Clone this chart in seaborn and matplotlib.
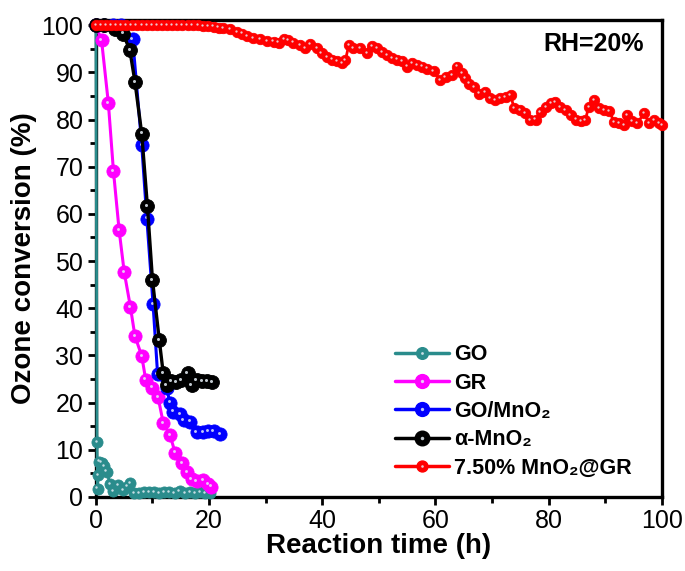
import numpy as np
import pandas as pd
import matplotlib
matplotlib.use("Agg")
import matplotlib.pyplot as plt
import matplotlib.transforms as mtransforms
from matplotlib.lines import Line2D
from matplotlib.legend_handler import HandlerTuple
from matplotlib.ticker import MultipleLocator
import seaborn as sns

# ---------------- data ----------------
go_x = [0, 0.2, 0.3, 0.4, 0.6, 1.0, 1.4, 1.9, 2.5, 3.1, 3.9, 4.8, 5.5, 6.0, 6.8,
        7.6, 8.5, 9.4, 10.3, 11.2, 12.1, 13.0, 13.9, 14.8, 15.7, 16.6, 17.5,
        18.4, 19.3, 20.2]
go_y = [100, 11.7, 1.8, 4.6, 7.5, 7.3, 6.5, 5.4, 2.8, 1.3, 2.5, 1.5, 2.2, 3.0, 0.8,
        0.9, 1.0, 1.1, 1.0, 0.9, 1.1, 1.0, 0.8, 1.2, 0.9, 1.0, 0.8, 1.0, 0.8, 0.9]

gr_x = [0, 1.0, 2.2, 3.1, 4.1, 5.0, 6.1, 6.9, 8.1, 8.8, 9.9, 11.0, 11.9, 13.1,
        14.0, 15.2, 16.1, 16.9, 17.8, 19.0, 19.9, 20.3]
gr_y = [100, 96.8, 83.5, 69.1, 56.6, 47.7, 40.3, 34.1, 29.9, 24.9, 23.2, 21.1,
        15.7, 13.1, 9.4, 7.1, 5.2, 3.8, 3.4, 3.6, 2.8, 2.2]

gomn_x = [0, 1.5, 3.0, 4.5, 6.5, 8.1, 9.0, 10.1, 10.9, 12.5, 13.1, 13.7, 14.9,
          15.5, 16.6, 17.8, 19.0, 19.9, 20.8, 21.9]
gomn_y = [100, 100, 100, 100, 97.0, 74.6, 59.0, 40.9, 26.1, 23.0, 20.0, 18.1,
          17.6, 16.3, 16.0, 13.8, 13.8, 14.0, 14.0, 13.3]

amn_x = [0, 1.5, 3.4, 4.8, 6.0, 6.9, 8.1, 9.1, 10.0, 11.2, 11.9, 12.5, 13.3,
         14.2, 15.0, 16.2, 16.9, 17.8, 18.7, 19.6, 20.5]
amn_y = [100, 100, 99.1, 98.2, 94.7, 88.0, 77.0, 61.7, 46.0, 33.3, 26.2, 23.7,
         24.6, 24.4, 24.8, 26.2, 23.7, 24.8, 24.5, 24.5, 24.3]

red_x = [0, 0.9, 1.8, 2.7, 3.6, 4.5, 5.4, 6.3, 7.2, 8.1, 9.0, 9.9, 10.8, 11.7,
         12.6, 13.5, 14.4, 15.3, 16.2, 17.1, 18.0, 19.0, 19.9, 20.8, 21.7, 22.5,
         23.7, 24.9, 25.8, 26.7, 27.8, 29.0, 30.2, 31.4, 32.3, 33.2, 34.0, 34.9,
         36.1, 37.0, 37.9, 39.1, 39.9, 40.8, 41.7, 42.6, 43.5, 44.1, 44.7, 45.5,
         46.7, 47.9, 48.8, 49.7, 50.6, 51.5, 52.3, 53.2, 54.1, 55.0, 55.9, 56.8,
         57.6, 58.5, 59.7, 60.9, 61.8, 63.0, 63.8, 64.7, 65.3, 65.9, 66.8, 67.7,
         68.8, 69.7, 70.6, 71.5, 72.4, 73.3, 73.9, 75.0, 75.9, 76.8, 77.7, 78.6,
         79.5, 80.4, 81.2, 82.1, 83.0, 83.9, 84.8, 85.7, 86.5, 87.1, 88.0, 88.9,
         89.8, 90.7, 91.6, 92.4, 93.3, 93.9, 94.8, 95.7, 96.9, 97.8, 98.6, 99.5,
         100.0]
red_y = [100, 100, 100, 100, 100, 100, 100, 100, 100, 100, 100, 100, 100, 100,
         100, 100, 100, 100, 100, 100, 100, 99.8, 99.8, 99.7, 99.5, 99.3,
         99.1, 98.6, 98.2, 97.7, 97.2, 97.0, 96.7, 96.5, 96.3, 97.0, 96.8, 96.3,
         95.8, 95.1, 96.0, 95.1, 94.1, 93.3, 92.7, 92.4, 92.0, 92.6, 95.8, 95.1,
         95.1, 94.0, 95.6, 95.1, 94.3, 93.6, 93.1, 92.7, 92.4, 91.2, 92.0, 91.5,
         91.2, 90.8, 90.3, 88.3, 89.0, 89.4, 91.2, 89.8, 88.7, 87.6, 86.8, 85.5,
         85.9, 84.5, 84.1, 84.5, 84.8, 85.2, 82.4, 82.0, 81.3, 79.9, 80.0, 81.6,
         82.7, 83.5, 83.7, 82.7, 82.0, 80.9, 80.0, 79.7, 79.9, 82.7, 84.1, 82.4,
         82.0, 81.8, 79.5, 79.2, 78.8, 80.9, 79.7, 79.3, 81.3, 79.3, 79.9, 79.2,
         78.8]

labels = ["GO", "GR", "GO/MnO₂", "α-MnO₂", "7.50% MnO₂@GR"]
colors = ["#2A8C8C", "#FF00FF", "#0000FF", "#000000", "#FF0000"]
series = [(go_x, go_y), (gr_x, gr_y), (gomn_x, gomn_y), (amn_x, amn_y), (red_x, red_y)]
msizes = [8, 9.5, 9.5, 10, 7.5]
lwidths = [2.0, 2.2, 2.2, 2.4, 2.0]

# ---------------- style ----------------
sns.set_theme(style="ticks")
plt.rcParams["font.family"] = ["Liberation Sans", "DejaVu Sans"]
for k in ["text.color", "axes.labelcolor", "xtick.color", "ytick.color", "axes.edgecolor"]:
    plt.rcParams[k] = "black"

fig = plt.figure(figsize=(6.85, 5.71), dpi=100)
ax = fig.add_axes([0.140, 0.1296, 0.826, 0.8354])

hl = mtransforms.offset_copy(ax.transData, fig=fig, x=-1.2, y=1.2, units="dots")
HL = "#E4ECF4"

handles = []
for i, ((xs, ys), lab, col, ms, lw) in enumerate(zip(series, labels, colors, msizes, lwidths)):
    df = pd.DataFrame({"t": xs, "v": ys})
    sns.lineplot(data=df, x="t", y="v", ax=ax, color=col, lw=lw, marker="o",
                 markersize=ms, markeredgewidth=0.6, markeredgecolor=col,
                 estimator=None, sort=False, zorder=3 + i, clip_on=False)
    # sphere highlight
    ax.plot(xs, ys, ls="none", marker="o", markersize=ms * 0.22, color=HL,
            alpha=0.85, markeredgewidth=0, transform=hl, zorder=3.5 + i, clip_on=False)
    h1 = Line2D([], [], color=col, lw=2.5, marker="o", markersize=ms * 1.05,
                markeredgecolor=col)
    h2 = Line2D([], [], ls="none", marker="o", markersize=ms * 0.25,
                color=HL, alpha=0.85, markeredgewidth=0)
    handles.append((h1, h2))

ax.set_xlim(0, 100)
ax.set_ylim(0, 101.1)
ax.xaxis.set_major_locator(MultipleLocator(20))
ax.xaxis.set_minor_locator(MultipleLocator(10))
ax.yaxis.set_major_locator(MultipleLocator(10))
ax.yaxis.set_minor_locator(MultipleLocator(5))
ax.tick_params(which="major", direction="out", length=6, width=2, labelsize=18,
               colors="black", pad=3)
ax.tick_params(which="minor", direction="out", length=4, width=2, colors="black")
for s in ax.spines.values():
    s.set_linewidth(2.4)
    s.set_color("black")

ax.set_xlabel("Reaction time (h)", fontsize=20, fontweight="bold", labelpad=0)
ax.set_ylabel("Ozone conversion (%)", fontsize=20, fontweight="bold", labelpad=3)

ax.text(96.8, 96.0, "RH=20%", fontsize=18, fontweight="bold", ha="right",
        va="center", zorder=10)

leg = ax.legend(handles, labels, handler_map={tuple: HandlerTuple(ndivide=1, pad=0)},
                loc="upper left", bbox_to_anchor=(0.513, 0.338), frameon=False,
                prop={"weight": "bold", "size": 15.5}, handlelength=2.5,
                handletextpad=0.25, labelspacing=0.34, borderaxespad=0)

fig.savefig("out.png", dpi=100, facecolor="white")
